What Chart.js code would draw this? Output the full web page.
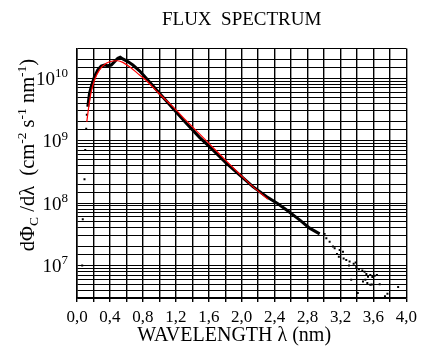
<!DOCTYPE html>
<html>
<head>
<meta charset="utf-8">
<script src="https://cdn.jsdelivr.net/npm/chart.js@4.4.0/dist/chart.umd.min.js"></script>
<style>
  html, body { margin: 0; padding: 0; background: #fff; }
  #wrap { width: 422px; height: 354px; }
</style>
</head>
<body>
<div id="wrap"><canvas id="flux"></canvas></div>
<script>
// Measured flux, dense part of the spectrum (wavelength in nm)
const measWl = [0.131, 0.152, 0.173, 0.192, 0.213, 0.253, 0.294, 0.334, 0.374, 0.416,
  0.456, 0.496, 0.525, 0.556, 0.617, 0.678, 0.759, 0.841, 1.002, 1.164,
  1.327, 1.488, 1.65, 1.813, 1.974, 2.136, 2.299, 2.44, 2.558, 2.703, 2.825, 2.947];
const measFlux = [3.5e9, 5.75e9, 7.3e9, 8.8e9, 1.06e10, 1.36e10, 1.57e10, 1.63e10, 1.59e10, 1.63e10,
  1.85e10, 2.09e10, 2.17e10, 2.04e10, 1.85e10, 1.63e10, 1.32e10, 1.0e10, 5.75e9, 3.3e9,
  1.9e9, 1.13e9, 7.1e8, 4.34e8, 2.82e8, 1.83e8, 1.27e8, 9.7e7, 7.5e7, 5.36e7, 3.95e7, 3.2e7];

// Sparse points at the short-wavelength edge
const edgeWl = [0.063, 0.070, 0.091, 0.100, 0.112, 0.119];
const edgeFlux = [1.0e7, 5.5e7, 2.4e8, 7.1e8, 1.55e9, 2.6e9];

// Noisy long-wavelength tail
const tailWl = [3.007, 3.028, 3.068, 3.108, 3.129, 3.19, 3.23, 3.157, 3.18, 3.238,
  3.27, 3.31, 3.36, 3.384, 3.303, 3.392, 3.424, 3.465, 3.493, 3.514,
  3.534, 3.562, 3.587, 3.615, 3.643, 3.502, 3.473, 3.526, 3.562, 3.58,
  3.676, 3.33, 3.41, 3.74, 3.77, 3.90];
const tailFlux = [3.2e7, 2.73e7, 2.4e7, 2.0e7, 1.89e7, 1.77e7, 1.66e7, 1.53e7, 1.38e7, 1.29e7,
  1.22e7, 1.15e7, 1.06e7, 1.11e7, 1.0e7, 9.4e6, 8.7e6, 8.3e6, 7.9e6, 7.3e6,
  6.6e6, 7.0e6, 6.5e6, 6.8e6, 7.0e6, 5.9e6, 5.5e6, 5.2e6, 4.9e6, 4.95e6,
  5.0e6, 5.9e6, 3.6e6, 3.2e6, 3.5e6, 4.5e6];

// Fitted curve
const fitWl = [0.119, 0.143, 0.173, 0.213, 0.273, 0.355, 0.435, 0.496, 0.556, 0.638,
  0.759, 0.841, 1.002, 1.164, 1.327, 1.488, 1.65, 1.813, 1.974, 2.136, 2.318];
const fitFlux = [2.0e9, 3.5e9, 6.1e9, 9.4e9, 1.36e10, 1.74e10, 1.89e10, 1.91e10, 1.80e10, 1.53e10,
  1.13e10, 9.2e9, 5.6e9, 3.5e9, 2.09e9, 1.28e9, 7.8e8, 4.73e8, 2.92e8, 1.83e8, 1.15e8];

// Axis labels
const xLabels = ['0,0', '0,4', '0,8', '1,2', '1,6', '2,0', '2,4', '2,8', '3,2', '3,6', '4,0'];
const yDecades = [1e7, 1e8, 1e9, 1e10];
const yExponents = ['7', '8', '9', '10'];

const SERIF = '"Liberation Serif", "Times New Roman", serif';

const toPoints = (xs, ys) => xs.map((x, i) => ({ x: x, y: ys[i] }));

// Decade labels as 10 with a raised exponent
const yLabelPlugin = {
  id: 'yDecadeLabels',
  afterDraw(chart) {
    const ctx = chart.ctx;
    const y = chart.scales.y;
    const right = y.right - 9;
    ctx.save();
    ctx.fillStyle = '#000';
    ctx.textBaseline = 'alphabetic';
    ctx.textAlign = 'right';
    yDecades.forEach((d, i) => {
      const py = y.getPixelForValue(d);
      ctx.font = '13px ' + SERIF;
      const ew = ctx.measureText(yExponents[i]).width;
      ctx.fillText(yExponents[i], right, py - 1);
      ctx.font = '19px ' + SERIF;
      ctx.fillText('10', right - ew, py + 6.5);
    });
    ctx.restore();
  }
};

// Rotated y-axis title with sub/superscripts
const yTitlePlugin = {
  id: 'yTitle',
  afterDraw(chart) {
    const parts = [
      ['d\u03a6', 0], ['C', -1], [' /d\u03bb  (cm', 0], ['-2', 1],
      [' s', 0], ['-1', 1], [' nm', 0], ['-1', 1], [')', 0]
    ];
    const ctx = chart.ctx;
    const big = '20.5px ' + SERIF;
    const small = '13.5px ' + SERIF;
    ctx.save();
    ctx.fillStyle = '#000';
    ctx.textBaseline = 'alphabetic';
    ctx.textAlign = 'left';
    let total = 0;
    parts.forEach(p => {
      ctx.font = p[1] === 0 ? big : small;
      total += ctx.measureText(p[0]).width;
    });
    ctx.translate(34, 155);
    ctx.rotate(-Math.PI / 2);
    let x = -total / 2;
    parts.forEach(p => {
      ctx.font = p[1] === 0 ? big : small;
      const dy = p[1] === 1 ? -8 : (p[1] === -1 ? 4 : 0);
      ctx.fillText(p[0], x, dy);
      x += ctx.measureText(p[0]).width;
    });
    ctx.restore();
  }
};

new Chart(document.getElementById('flux'), {
  type: 'scatter',
  data: {
    datasets: [
      {
        label: 'fit',
        data: toPoints(fitWl, fitFlux),
        showLine: true,
        borderColor: '#ff0000',
        borderWidth: 1.2,
        pointRadius: 0,
        cubicInterpolationMode: 'monotone'
      },
      {
        label: 'measured',
        data: toPoints(measWl, measFlux),
        showLine: true,
        borderColor: '#000',
        borderWidth: 3,
        pointRadius: 0
      },
      {
        label: 'edge',
        data: toPoints(edgeWl, edgeFlux),
        backgroundColor: '#000',
        borderWidth: 0,
        pointStyle: 'rect',
        pointRadius: 1.4
      },
      {
        label: 'tail',
        data: toPoints(tailWl, tailFlux),
        backgroundColor: '#000',
        borderWidth: 0,
        pointStyle: 'rect',
        pointRadius: 1.4
      }
    ]
  },
  options: {
    responsive: true,
    maintainAspectRatio: false,
    devicePixelRatio: 1,
    animation: false,
    layout: { padding: { left: 0, right: 15, top: 0, bottom: 0 } },
    plugins: {
      legend: { display: false },
      tooltip: { enabled: false },
      title: {
        display: true,
        fullSize: false,
        text: 'FLUX  SPECTRUM',
        color: '#000',
        font: { family: SERIF, size: 19, weight: 'normal' },
        padding: { top: 8.5, bottom: 17.2 }
      }
    },
    scales: {
      x: {
        type: 'linear',
        min: 0,
        max: 4,
        afterFit(scale) { scale.height = 56; },
        border: { color: '#000', width: 1.5 },
        grid: { color: '#000', lineWidth: 1.4, drawTicks: true, tickLength: 4, tickColor: '#000' },
        ticks: {
          stepSize: 0.2,
          autoSkip: false,
          maxRotation: 0,
          padding: 5,
          color: '#000',
          font: { family: SERIF, size: 17 },
          callback(value) {
            const k = Math.round(value / 0.2);
            return k % 2 === 0 ? xLabels[k / 2] : '';
          }
        },
        title: {
          display: true,
          text: 'WAVELENGTH \u03bb (nm)\u00a0\u00a0\u00a0',
          color: '#000',
          font: { family: SERIF, size: 20 },
          padding: { top: 0, bottom: 6 }
        }
      },
      y: {
        type: 'logarithmic',
        min: 3e6,
        max: 3e10,
        afterFit(scale) { scale.width = 77; },
        border: { color: '#000', width: 1.5 },
        grid: { color: '#000', lineWidth: 1, drawTicks: false },
        ticks: {
          autoSkip: false,
          padding: 9,
          color: '#000',
          callback() { return ''; }
        }
      }
    }
  },
  plugins: [yLabelPlugin, yTitlePlugin]
});
</script>
</body>
</html>
